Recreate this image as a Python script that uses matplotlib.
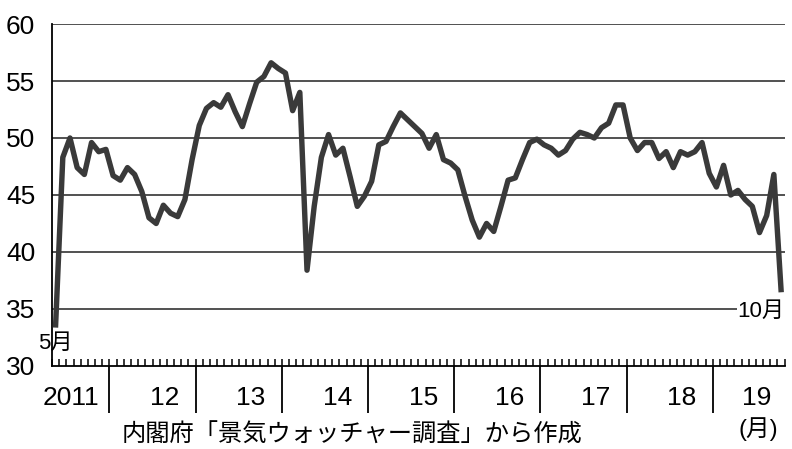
import numpy as np
import matplotlib.pyplot as plt
from matplotlib.transforms import blended_transform_factory

plt.rcParams['font.family'] = ['Liberation Sans', 'Noto Sans CJK JP']

# Economy watchers DI (current conditions), monthly, 2011/5 - 2019/10
di = [33.6, 48.3, 50.0, 47.4, 46.8, 49.6, 48.8, 49.0, 46.7, 46.3,
      47.4, 46.8, 45.3, 43.0, 42.5, 44.1, 43.4, 43.1, 44.6, 48.1,
      51.1, 52.6, 53.1, 52.7, 53.8, 52.3, 51.0, 53.0, 54.9, 55.4,
      56.6, 56.1, 55.7, 52.4, 54.0, 38.4, 44.0, 48.3, 50.3, 48.5,
      49.1, 46.6, 44.0, 44.9, 46.2, 49.4, 49.7, 51.0, 52.2, 51.6,
      51.0, 50.4, 49.1, 50.3, 48.1, 47.8, 47.2, 44.9, 42.8, 41.3,
      42.5, 41.8, 44.0, 46.3, 46.5, 48.1, 49.6, 49.9, 49.4, 49.1,
      48.5, 48.9, 49.9, 50.5, 50.3, 50.0, 50.9, 51.3, 52.9, 52.9,
      50.0, 48.9, 49.6, 49.6, 48.2, 48.8, 47.4, 48.8, 48.5, 48.8,
      49.6, 46.9, 45.7, 47.6, 45.0, 45.4, 44.6, 44.0, 41.7, 43.2,
      46.8, 36.7]
years = ['2011', '12', '13', '14', '15', '16', '17', '18', '19']
first_month = 5
y_ticks = [30, 35, 40, 45, 50, 55, 60]

n = len(di)
x = np.arange(n)

fig = plt.figure(figsize=(7.92, 4.49), dpi=100)
ax = fig.add_axes([0.0657, 0.185, 0.925, 0.7615])

ax.plot(x, di, color='#3a3a3a', linewidth=3.9, solid_joinstyle='round', zorder=3)

ax.set_xlim(-0.5, n - 0.5)
ax.set_ylim(30, 60)
ax.set_yticks(y_ticks)
ax.set_yticklabels([str(v) for v in y_ticks], fontsize=19)
ax.tick_params(axis='y', length=0, pad=12)
for v in y_ticks[1:]:
    ax.axhline(v, color='#222222', linewidth=1.1, zorder=1)

for s in ['top', 'right']:
    ax.spines[s].set_visible(False)
ax.spines['left'].set_linewidth(1.3)
ax.spines['bottom'].set_linewidth(1.3)

# year boundaries (major, down) and months (minor, up)
bounds = [b - 0.5 for b in range(13 - first_month, n, 12)]
ax.set_xticks(bounds)
ax.set_xticklabels([])
ax.set_xticks(np.arange(-0.5, n, 1), minor=True)
ax.xaxis.remove_overlapping_locs = False
ax.tick_params(axis='x', which='major', direction='out', length=34, width=1.3)
ax.tick_params(axis='x', which='minor', direction='in', length=5, width=1.1)

tr = blended_transform_factory(ax.transData, ax.transAxes)
label_x = [2.2] + [b + 7.7 for b in bounds[:-1]] + [97.6]
for lx, lab in zip(label_x, years):
    ax.text(lx, -0.093, lab, transform=tr, ha='center', va='center', fontsize=19)

ax.text(0, 32.0, '5月', ha='center', va='center', fontsize=16)
ax.text(n - 0.5, 34.8, '10月', ha='right', va='center', fontsize=16,
        bbox=dict(facecolor='white', edgecolor='none', pad=0.5))

fig.text(0.154, 0.004, '内閣府「景気ウォッチャー調査」から作成', ha='left', va='bottom',
         fontsize=17.5, family=['Noto Sans CJK JP'])
fig.text(0.958, 0.018, '(月)', ha='center', va='bottom', fontsize=17)

fig.savefig('out.png', dpi=100)
